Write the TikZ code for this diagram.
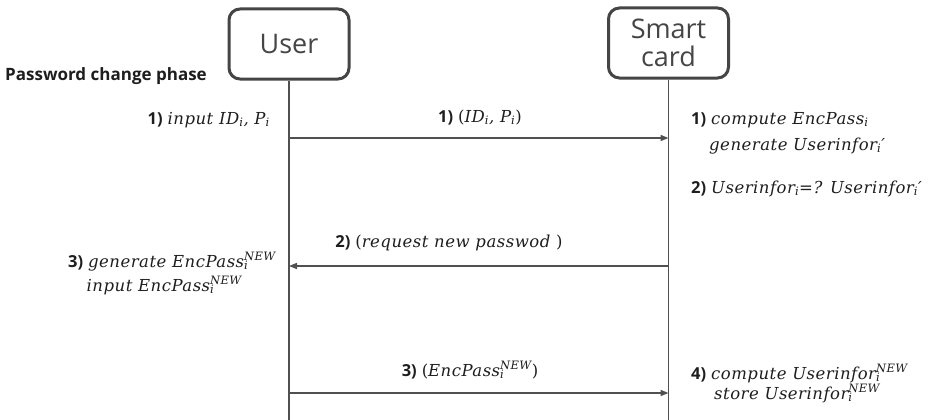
\documentclass[tikz,border=0pt]{standalone}
\usepackage{fontspec}
\setsansfont{Open Sans}
\newfontfamily\mfont{DejaVu Serif}[LetterSpace=3]
\usetikzlibrary{arrows.meta}
\newcommand\mt[1]{{\mfont\itshape #1}}
\newcommand\isub[1]{\textsubscript{\mfont\itshape #1}}
\newcommand\isubsup[2]{\rlap{\textsubscript{\mfont\itshape #1}}\textsuperscript{\mfont\itshape #2}}
\newcommand\nm[1]{{\sffamily\bfseries #1}}
\definecolor{linegray}{HTML}{505050}
\definecolor{boxgray}{HTML}{454545}
\definecolor{txt}{HTML}{1E1E1E}
\begin{document}
\begin{tikzpicture}[x=1pt,y=-1pt,
  actor/.style={draw=boxgray, line width=3pt, rounded corners=11pt, minimum width=120pt,
    minimum height=70pt, font=\sffamily\fontsize{27}{31}\selectfont, text=boxgray, align=center, inner sep=0pt},
  life/.style={draw=linegray, line width=1.5pt},
  msg/.style={draw=linegray, line width=1.5pt, -{Triangle[length=8pt,width=6pt]}},
  lbl/.style={inner sep=0pt, text=txt, font=\fontsize{16.5}{19}\selectfont},
  head/.style={inner sep=0pt, text=txt, font=\sffamily\bfseries\fontsize{17}{20}\selectfont}]
\useasboundingbox (0,0) rectangle (931,420);
\fill[white] (0,0) rectangle (931,420);

\node[actor] (user) at (289,44) {User};
\node[actor] (card) at (668.5,43) {Smart\\[-3pt]card};

\coordinate (ubot) at (289,420);
\coordinate (cbot) at (668.5,420);
\draw[life] (user.south) -- (ubot);
\draw[life] (card.south) -- (cbot);

\node[head, anchor=mid west] (phase) at (5,78) {Password change phase};

% step 1
\node[lbl, anchor=mid east] (u1) at (270,122) {\nm{1)} \mt{input ID}\isub{i}\mt{, P}\isub{i}};
\coordinate (a1s) at (289,138);
\coordinate (a1e) at (668.5,138);
\draw[msg] (a1s) -- (a1e);
\node[lbl, anchor=mid] (m1) at (480,120) {\nm{1)} {\mfont(}\mt{ID}\isub{i}\mt{, P}\isub{i}{\mfont)}};
\node[lbl, anchor=mid west] (c1a) at (691,122) {\nm{1)} \mt{compute EncPass}\isub{i}};
\node[lbl, anchor=mid west] (c1b) at (709,148) {\mt{generate Userinfor}\isub{i}{\mfont\itshape ′}};

% step 2
\node[lbl, anchor=mid west] (c2) at (691,191) {\nm{2)} \mt{Userinfor}\isub{i}\mt{=? Userinfor}\isub{i}{\mfont\itshape ′}};
\coordinate (a2s) at (668.5,266);
\coordinate (a2e) at (289,266);
\draw[msg] (a2s) -- (a2e);
\node[lbl, anchor=mid] (m2) at (449,245) {\nm{2)} {\mfont(}\mt{request new passwod }{\mfont)}};
\node[lbl, anchor=mid east] (u3a) at (276,265) {\nm{3)} \mt{generate EncPass}\isubsup{i}{NEW}};
\node[lbl, anchor=mid east] (u3b) at (242,289) {\mt{input EncPass}\isubsup{i}{NEW}};

% step 3
\coordinate (a3s) at (289,393);
\coordinate (a3e) at (668.5,393);
\draw[msg] (a3s) -- (a3e);
\node[lbl, anchor=mid] (m3) at (470,374) {\nm{3)} {\mfont(}\mt{EncPass}\isubsup{i}{NEW}{\mfont)}};
\node[lbl, anchor=mid west] (c4a) at (691,377) {\nm{4)} \mt{compute Userinfor}\isubsup{i}{NEW}};
\node[lbl, anchor=mid west] (c4b) at (714,397) {\mt{store Userinfor}\isubsup{i}{NEW}};
\end{tikzpicture}
\end{document}
